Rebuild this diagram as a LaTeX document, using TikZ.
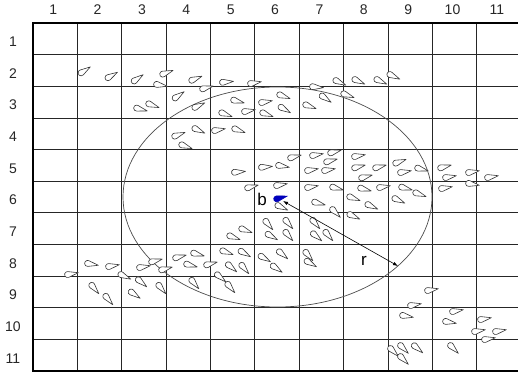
\documentclass[tikz,border=0pt]{standalone}
\usepackage{fontspec}
\setmainfont{Liberation Sans}
\usetikzlibrary{arrows.meta}
\newcommand\gl[3]{\draw[gly,shift={(#1,#2)},rotate=#3] (7.5,0) -- (-2.67,2.88) arc[start angle=74,end angle=286,radius=3] -- cycle;}
\begin{document}
\begin{tikzpicture}[x=1pt,y=-1pt,
  gridline/.style={line width=0.75pt, draw=black!85},
  border/.style={line width=2.7pt, draw=black},
  gly/.style={draw=black!80, line width=0.6pt, fill=white, line join=round},
  bgly/.style={draw=blue!70!black, fill=blue!75!black, line width=0.55pt},
  lab/.style={font=\fontsize{14}{14}\selectfont, text=black!85, inner sep=0pt},
  big/.style={font=\fontsize{17}{17}\selectfont, text=black, inner sep=0pt},
  ell/.style={draw=black!70, line width=0.7pt},
  rad/.style={line width=0.6pt, {Latex[length=5pt,width=3.5pt]}-{Latex[length=5pt,width=3.5pt]}}]
\useasboundingbox (0,0) rectangle (518,374);
\clip (0,0) rectangle (518,374);
% grid
\foreach \k in {1,...,10} \draw[gridline] ({33+44.37*\k},23) -- ({33+44.37*\k},371);
\foreach \k in {1,...,10} \draw[gridline] (33,{23+31.64*\k}) -- (522,{23+31.64*\k});
\draw[border] (522,23) -- (33,23) -- (33,371) -- (522,371);
% labels
\foreach \k in {1,...,11} {
  \node[lab] (c\k) at ({33+44.37*(\k-0.5)-2},10) {\k};
  \node[lab] (r\k) at (13,{23+31.64*(\k-0.5)+3}) {\k};
}
% ellipse
\draw[ell] (277.5,197) ellipse [x radius=154.5, y radius=110];
% glyphs
\foreach \x/\y/\a in {
 84/71/33, 111/76/30, 137/79/35, 166/73/20, 160/85/-10, 195/79/22, 206/88/15,
 178/96/35, 198/106/25, 140/109/-15, 152/105/-20, 178/135/20, 198/130/-25,
 218/130/10, 238/130/-20, 185/146/-20, 226/82/5, 254/83/10, 237/101/-15,
 283/96/-20, 265/102/10, 225/114/-20, 248/111/10, 266/114/-20, 284/109/-30,
 309/106/-20, 325/98/-35, 316/87/-5, 339/82/-25, 347/95/-20, 358/81/-25,
 380/81/-25, 393/76/-25,
 238/172/5, 265/167/5, 282/166/-10, 294/157/15, 316/155/10, 334/152/15,
 330/161/15, 311/170/10, 328/170/10, 358/156/10, 358/167/15, 365/177/15,
 379/167/15, 399/162/20, 404/172/10, 421/169/-15, 444/167/15, 449/177/10,
 472/172/10, 491/177/10, 472/184/-10, 251/187/15, 280/185/10, 281/207/-25,
 311/187/10, 336/188/-15, 364/189/-15, 383/187/10, 405/188/-15, 419/194/-20,
 445/188/10, 318/203/-15, 353/198/-20, 371/206/-25, 398/200/-25, 335/212/-45,
 353/216/-25,
 268/224/-50, 288/223/-50, 271/236/-30, 288/235/-50, 315/223/-50, 316/236/-40,
 328/235/-50, 233/237/-20, 245/230/-20,
 226/252/-20, 244/253/-30, 264/258/-30, 282/254/-40, 308/255/-50, 276/268/-35,
 310/263/-30, 71/274/10, 91/264/-10, 112/266/10, 124/276/-25, 143/267/10,
 155/261/15, 165/269/15, 179/257/15, 197/254/-15, 190/265/-15, 210/264/15,
 94/288/-50, 108/299/-50, 141/282/-40, 134/294/-35, 161/288/-50, 194/283/-50,
 220/277/-40, 230/287/-50, 231/267/-40, 244/268/-50,
 431/290/10, 414/305/10, 406/316/-10, 456/311/10, 449/322/-10, 484/319/10,
 478/331/10, 499/331/10, 488/339/10, 393/351/-45, 403/348/-45, 417/348/-40,
 403/359/-45, 453/348/-45}
 {\gl{\x}{\y}{\a}}
% centre glyph
\draw[bgly,shift={(280,198)},rotate=15] (7.5,0) -- (-2.67,2.88) arc[start angle=74,end angle=286,radius=3] -- cycle;
% radius arrow
\coordinate (bc) at (283,201);
\coordinate (re) at (398,266);
\draw[rad] (bc) -- (re);
\node[big] (blab) at (262,199) {b};
\node[big] (rlab) at (364,261) {r};
\end{tikzpicture}
\end{document}
